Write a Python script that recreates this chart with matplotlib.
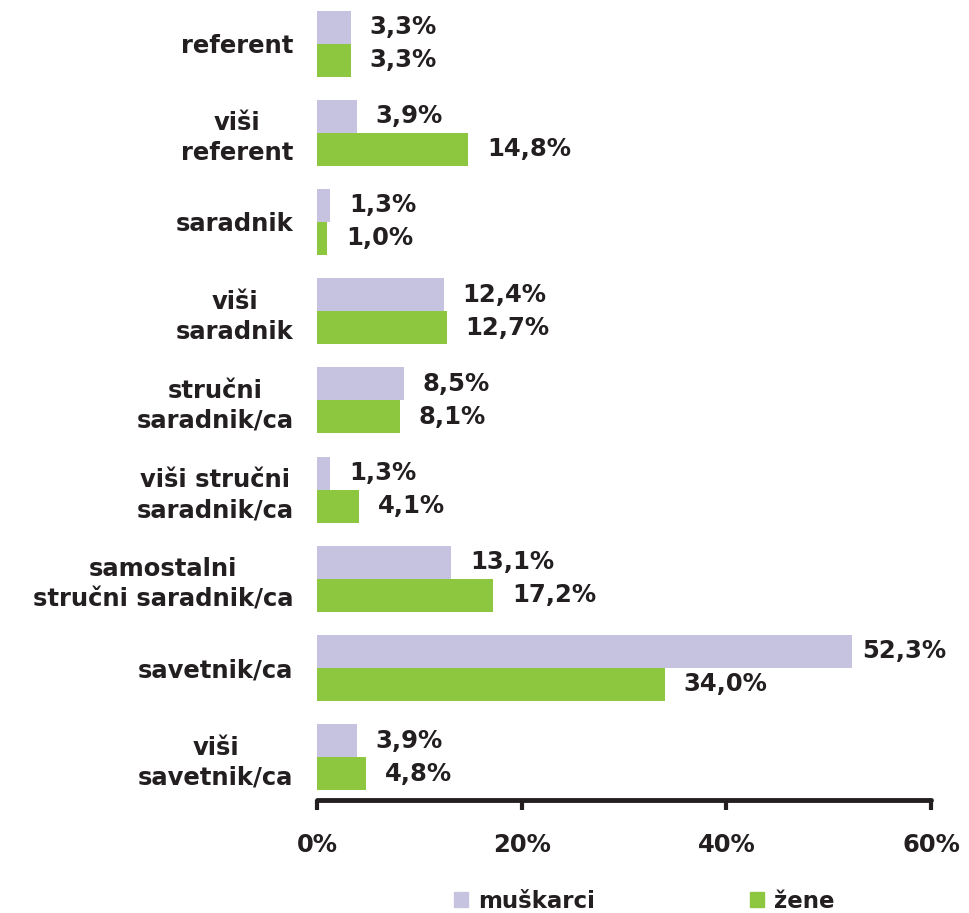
import matplotlib
matplotlib.use("Agg")
import matplotlib.pyplot as plt
import matplotlib.ticker as mticker
from matplotlib.patches import Patch
import numpy as np

CATEGORIES = [
    "referent",
    "viši\nreferent",
    "saradnik",
    "viši\nsaradnik",
    "stručni\nsaradnik/ca",
    "viši stručni\nsaradnik/ca",
    "samostalni\nstručni saradnik/ca",
    "savetnik/ca",
    "viši\nsavetnik/ca",
]
MEN = [3.3, 3.9, 1.3, 12.4, 8.5, 1.3, 13.1, 52.3, 3.9]
WOMEN = [3.3, 14.8, 1.0, 12.7, 8.1, 4.1, 17.2, 34.0, 4.8]
SERIES_LABELS = ["muškarci", "žene"]
X_TICKS = [0, 20, 40, 60]

MEN_COLOR = "#C6C3E0"
WOMEN_COLOR = "#8DC63F"
TEXT_COLOR = "#231F20"
FS = 17.5

plt.rcParams["font.family"] = ["DejaVu Sans"]
plt.rcParams["font.weight"] = "bold"

fig = plt.figure(figsize=(9.69, 9.13), dpi=100)
ax = fig.add_axes([317 / 969, 1 - 800 / 913, 614 / 969, 799.3 / 913])

y = np.arange(len(CATEGORIES))
h = 0.37
ax.barh(y - h / 2, MEN, height=h, color=MEN_COLOR)
ax.barh(y + h / 2, WOMEN, height=h, color=WOMEN_COLOR)

def fmt(v):
    return f"{v:.1f}%".replace(".", ",")

for i, (m, w) in enumerate(zip(MEN, WOMEN)):
    for v, yy in ((m, i - h / 2), (w, i + h / 2)):
        off = 7 if v > 50 else 13.5
        ax.annotate(fmt(v), (v, yy), xytext=(off, 0), textcoords="offset points",
                    ha="left", va="center", fontsize=FS, fontweight="bold",
                    color=TEXT_COLOR, annotation_clip=False)

ax.set_xlim(0, 60)
ax.set_ylim(8.48, -0.48)
ax.set_xticks(X_TICKS)
ax.xaxis.set_major_formatter(mticker.FuncFormatter(lambda v, p: f"{v:.0f}%"))
ax.set_yticks(y)
ax.set_yticklabels(CATEGORIES, multialignment="center", linespacing=1.32)
ax.tick_params(axis="y", length=0, pad=17, labelsize=FS, labelcolor=TEXT_COLOR)
ax.tick_params(axis="x", length=7, width=3, direction="out", pad=17,
               labelsize=FS, labelcolor=TEXT_COLOR, color=TEXT_COLOR)
for lab in ax.get_xticklabels() + ax.get_yticklabels():
    lab.set_fontweight("bold")

for side in ("top", "right", "left"):
    ax.spines[side].set_visible(False)
ax.spines["bottom"].set_linewidth(3.5)
ax.spines["bottom"].set_color(TEXT_COLOR)
ax.spines["bottom"].set_capstyle("round")

handles = [Patch(color=MEN_COLOR), Patch(color=WOMEN_COLOR)]
leg = fig.legend(handles, SERIES_LABELS, loc="center", bbox_to_anchor=(0.665, 0.013),
                 ncol=2, frameon=False, fontsize=16.5, handlelength=0.6, handleheight=0.6,
                 handletextpad=0.45, columnspacing=6.75)
for t in leg.get_texts():
    t.set_color(TEXT_COLOR)
    t.set_fontweight("bold")

fig.savefig("out.png", dpi=100)
